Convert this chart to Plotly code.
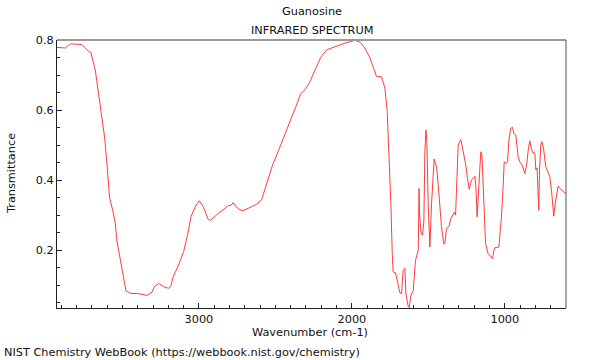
import plotly.graph_objects as go

# Wavenumber (cm-1) and transmittance
wavenumber = [
    3928, 3874, 3841, 3765, 3732, 3706, 3678, 3656, 3638, 3616, 3601, 3584, 3562, 3547, 3536,
    3514, 3492, 3477, 3449, 3394, 3340, 3307, 3292, 3263, 3231, 3198, 3183, 3170, 3133, 3100,
    3074, 3052, 3037, 3018, 2998, 2972, 2939, 2923, 2884, 2841, 2808, 2790, 2776, 2760, 2732,
    2710, 2655, 2623, 2590, 2557, 2518, 2482, 2438, 2394, 2366, 2335, 2307, 2279, 2242, 2204,
    2165, 2122, 2083, 2046, 2013, 1980, 1948, 1915, 1882, 1850, 1839, 1806, 1784, 1769, 1756,
    1745, 1736, 1730, 1714, 1701, 1686, 1675, 1665, 1653, 1647, 1632, 1625, 1614, 1599, 1584,
    1573, 1566, 1561, 1557, 1548, 1538, 1529, 1523, 1516, 1510, 1501, 1490, 1479, 1468, 1462,
    1456, 1446, 1431, 1414, 1399, 1392, 1381, 1366, 1353, 1338, 1330, 1322, 1314, 1305, 1288,
    1273, 1257, 1244, 1233, 1218, 1196, 1189, 1181, 1170, 1157, 1150, 1142, 1135, 1126, 1109,
    1080, 1074, 1065, 1039, 1022, 1011, 1004, 991, 982, 974, 961, 950, 941, 928, 913,
    902, 887, 869, 856, 847, 837, 826, 817, 804, 797, 789, 782, 778, 773, 765,
    758, 747, 732, 717, 706, 695, 680, 669, 651, 640, 625, 608, 600,
]
transmittance = [
    0.779, 0.777, 0.789, 0.787, 0.772, 0.763, 0.715, 0.644, 0.587, 0.520, 0.444, 0.349, 0.311, 0.277, 0.226,
    0.177, 0.120, 0.084, 0.077, 0.076, 0.071, 0.080, 0.096, 0.105, 0.096, 0.091, 0.099, 0.122, 0.158, 0.196,
    0.244, 0.296, 0.311, 0.329, 0.341, 0.325, 0.287, 0.286, 0.301, 0.315, 0.327, 0.328, 0.336, 0.325, 0.315,
    0.313, 0.325, 0.331, 0.344, 0.387, 0.444, 0.482, 0.529, 0.577, 0.610, 0.646, 0.658, 0.677, 0.715, 0.750,
    0.772, 0.780, 0.785, 0.791, 0.796, 0.799, 0.794, 0.777, 0.749, 0.706, 0.696, 0.695, 0.663, 0.596, 0.475,
    0.333, 0.190, 0.138, 0.135, 0.105, 0.078, 0.076, 0.143, 0.148, 0.076, 0.040, 0.036, 0.071, 0.084, 0.171,
    0.190, 0.200, 0.376, 0.300, 0.250, 0.243, 0.286, 0.477, 0.543, 0.514, 0.333, 0.209, 0.333, 0.448, 0.460,
    0.450, 0.438, 0.362, 0.267, 0.217, 0.219, 0.262, 0.267, 0.290, 0.300, 0.309, 0.300, 0.400, 0.500, 0.516,
    0.486, 0.448, 0.405, 0.374, 0.400, 0.411, 0.381, 0.295, 0.381, 0.481, 0.476, 0.400, 0.305, 0.219, 0.190,
    0.176, 0.195, 0.207, 0.209, 0.295, 0.381, 0.452, 0.448, 0.452, 0.514, 0.548, 0.551, 0.533, 0.529, 0.467,
    0.452, 0.443, 0.419, 0.448, 0.486, 0.512, 0.491, 0.478, 0.478, 0.429, 0.435, 0.319, 0.314, 0.429, 0.500,
    0.510, 0.491, 0.438, 0.424, 0.410, 0.371, 0.297, 0.338, 0.383, 0.376, 0.369, 0.364, 0.363,
]

title_lines = ["Guanosine", "INFRARED SPECTRUM"]
x_title = "Wavenumber (cm-1)"
y_title = "Transmittance"
footer = "NIST Chemistry WebBook (https://webbook.nist.gov/chemistry)"

FONT = "DejaVu Sans"
FS = 11.3
L, R, T, B = 57, 34, 40, 52
W, H = 600, 360
ph = H - T - B

def py(p):
    return (H - B - p) / ph

fig = go.Figure()
fig.add_trace(go.Scatter(x=wavenumber, y=transmittance, mode="lines",
                         line=dict(color="#ff3c3c", width=1), hoverinfo="skip"))

axis_common = dict(showgrid=False, zeroline=False, showline=True, linecolor="#222222",
                   linewidth=1, ticks="inside", ticklen=5, tickcolor="#222222",
                   tickfont=dict(family=FONT, size=FS, color="#111111"))
fig.update_xaxes(range=[3928, 600], tickvals=[3000, 2000, 1000], ticktext=["3000", "2000", "1000"],
                 minor=dict(dtick=100, tick0=0, ticks="inside", ticklen=3, tickcolor="#222222"),
                 **axis_common)
fig.update_yaxes(range=[0.035, 0.8], tickvals=[0.2, 0.4, 0.6, 0.8], ticktext=["0.2", "0.4", "0.6", "0.8"],
                 minor=dict(dtick=0.05, tick0=0, ticks="inside", ticklen=3, tickcolor="#222222"),
                 **axis_common)

# top and right frame lines
fig.add_shape(type="line", xref="paper", yref="paper", x0=0, x1=1, y0=1, y1=1,
              line=dict(color="#999999", width=2))
fig.add_shape(type="line", xref="paper", yref="paper", x0=1, x1=1, y0=0, y1=1,
              line=dict(color="#555555", width=1))

ann = []
ann.append(dict(text=title_lines[0], x=0.5, y=py(12), xref="paper", yref="paper",
                showarrow=False, xanchor="center", yanchor="middle",
                font=dict(family=FONT, size=FS, color="#111111")))
ann.append(dict(text=title_lines[1], x=0.5, y=py(30), xref="paper", yref="paper",
                showarrow=False, xanchor="center", yanchor="middle",
                font=dict(family=FONT, size=FS, color="#111111")))
ann.append(dict(text=x_title, x=(310 - L) / (W - L - R), y=py(332), xref="paper", yref="paper",
                showarrow=False, xanchor="center", yanchor="middle",
                font=dict(family=FONT, size=FS, color="#111111")))
ann.append(dict(text=y_title, x=(11 - L) / (W - L - R), y=py(174), xref="paper", yref="paper",
                showarrow=False, xanchor="center", yanchor="middle", textangle=-90,
                font=dict(family=FONT, size=FS, color="#111111")))
ann.append(dict(text=footer, x=(2 - L) / (W - L - R), y=py(352), xref="paper", yref="paper",
                showarrow=False, xanchor="left", yanchor="middle",
                font=dict(family=FONT, size=FS, color="#111111")))

fig.update_layout(width=W, height=H, margin=dict(l=L, r=R, t=T, b=B),
                  paper_bgcolor="white", plot_bgcolor="white", showlegend=False,
                  annotations=ann)

fig.write_html("out.html", config={"displayModeBar": False})
